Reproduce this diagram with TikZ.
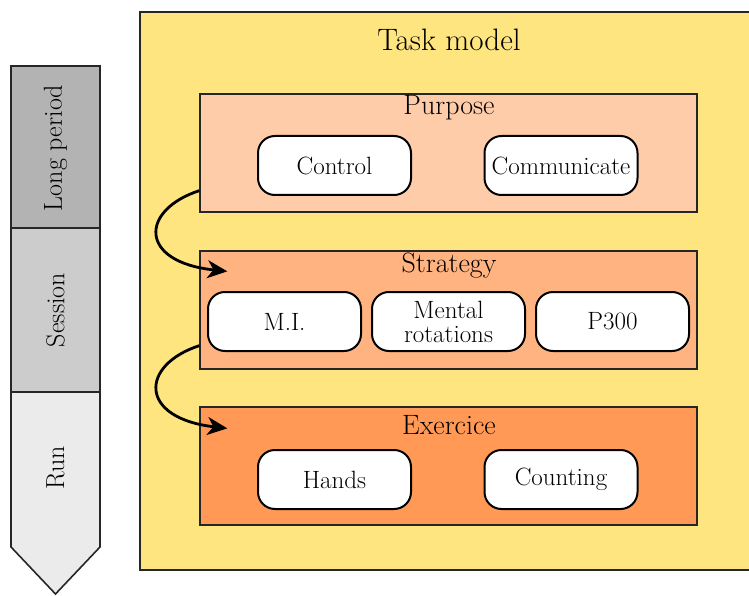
\documentclass[tikz,border=0pt]{standalone}
\usetikzlibrary{arrows.meta}
\definecolor{taskcol}{RGB}{255,229,128}
\definecolor{purposecol}{RGB}{255,204,170}
\definecolor{strategycol}{RGB}{255,179,128}
\definecolor{exercicecol}{RGB}{255,153,85}
\definecolor{longcol}{RGB}{179,179,179}
\definecolor{sessioncol}{RGB}{204,204,204}
\definecolor{runcol}{RGB}{235,235,235}
\tikzset{
  level/.style={draw=black!85, line width=1.3pt, inner sep=0pt},
  leaf/.style={draw=black, line width=2pt, fill=white, rounded corners=17pt, minimum width=153pt, minimum height=59pt, inner sep=0pt, align=center, font=\fontsize{25}{24}\selectfont},
  title/.style={font=\fontsize{28}{30}\selectfont, inner sep=0pt},
  phase/.style={draw=black!85, line width=1.6pt},
  flow/.style={line width=2.8pt, -{Stealth[length=20pt,width=18pt,inset=6pt]}}
}
\begin{document}
\begin{tikzpicture}[x=1pt,y=-1pt]
\useasboundingbox (0,0) rectangle (749,596);
% time scale
\draw[phase, fill=longcol] (11,66) rectangle (100,228);
\draw[phase, fill=sessioncol] (11,228) rectangle (100,392);
\draw[phase, fill=runcol] (11,392) -- (100,392) -- (100,547) -- (55.5,594) -- (11,547) -- cycle;
\node[title, rotate=90, font=\fontsize{26}{28}\selectfont] (long) at (55.5,148) {Long period};
\node[title, rotate=90, font=\fontsize{26}{28}\selectfont] (session) at (55.5,310) {Session};
\node[title, rotate=90, font=\fontsize{26}{28}\selectfont] (run) at (55.5,468) {Run};
% task model
\node[level, fill=taskcol, minimum width=620pt, minimum height=558pt] (task) at (450,291) {};
\node[title, font=\fontsize{31}{33}\selectfont] (tasktitle) at (449,40) {Task model};
% purpose
\node[level, fill=purposecol, minimum width=497pt, minimum height=118pt] (purpose) at (448.5,153) {};
\node[title] (purposetitle) at (449,108) {Purpose};
\node[leaf] (control) at (334.5,165.5) {Control};
\node[leaf] (communicate) at (561,165.5) {Communicate};
% strategy
\node[level, fill=strategycol, minimum width=497pt, minimum height=118pt] (strategy) at (448.5,310) {};
\node[title] (strategytitle) at (449,266) {Strategy};
\node[leaf] (mi) at (284.5,321.5) {M.I.};
\node[leaf] (mental) at (448.5,321.5) {Mental\\rotations};
\node[leaf] (p300) at (612.5,321.5) {P300};
% exercice
\node[level, fill=exercicecol, minimum width=497pt, minimum height=118pt] (exercice) at (448.5,466) {};
\node[title] (exercicetitle) at (449,425) {Exercice};
\node[leaf] (hands) at (334.5,479.5) {Hands};
\node[leaf] (counting) at (561,479.5) {Counting};
% links
\coordinate (purposeout) at ([yshift=22pt]purpose.south west);
\coordinate (strategyin) at ([xshift=28pt,yshift=-21pt]strategy.north west);
\coordinate (strategyout) at ([yshift=24pt]strategy.south west);
\coordinate (exercicein) at ([xshift=28pt,yshift=-22pt]exercice.north west);
\draw[flow] (purposeout) .. controls (140,210) and (138,262) .. (strategyin);
\draw[flow] (strategyout) .. controls (140,365) and (138,418) .. (exercicein);
\end{tikzpicture}
\end{document}
